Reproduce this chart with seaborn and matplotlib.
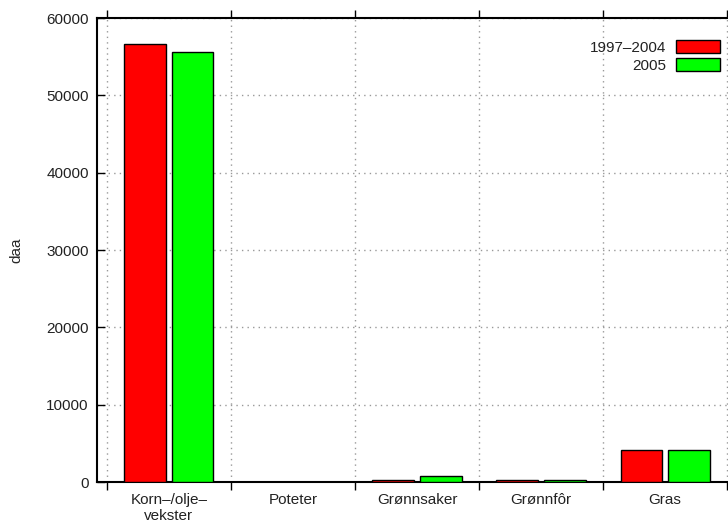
import matplotlib
matplotlib.use("Agg")
import matplotlib.pyplot as plt
import seaborn as sns
import pandas as pd
from matplotlib.patches import Patch

categories = ["Korn\u2013/olje\u2013\nvekster", "Poteter", "Grønnsaker", "Grønnfôr", "Gras"]
periods = ["1997\u20132004", "2005"]
values_9704 = [56700, 60, 250, 250, 4150]
values_2005 = [55600, 40, 800, 200, 4100]
colors = ["#ff0000", "#00ff00"]
yticks = [0, 10000, 20000, 30000, 40000, 50000, 60000]

df = pd.DataFrame({
    "kategori": categories * 2,
    "periode": [periods[0]] * len(categories) + [periods[1]] * len(categories),
    "daa": values_9704 + values_2005,
})

sns.set_style("white")
plt.rcParams["font.family"] = ["Liberation Sans", "DejaVu Sans"]
plt.rcParams["font.size"] = 11
plt.rcParams["text.color"] = "#222222"
plt.rcParams["xtick.color"] = "#222222"
plt.rcParams["ytick.color"] = "#222222"

fig = plt.figure(figsize=(7.28, 5.24), dpi=100)
ax = fig.add_axes([97 / 728, 42 / 524, 640 / 728, 464 / 524])

sns.barplot(data=df, x="kategori", y="daa", hue="periode", palette=colors,
            saturation=1, width=0.76, gap=0.11, edgecolor="black", linewidth=1.0,
            errorbar=None, legend=False, ax=ax, zorder=3)

ax.set_xlim(-0.58, 4.58)
ax.set_ylim(0, 60000)
ax.set_yticks(yticks)
ax.set_yticklabels([str(v) for v in yticks])

# category labels at bar-group centres, ticks/grid at group boundaries
ax.set_xticks(range(len(categories)))
ax.set_xticklabels(categories, linespacing=1.15)
ax.tick_params(axis="x", which="major", length=0, pad=8)
ax.set_xticks([i - 0.5 for i in range(len(categories) + 1)], minor=True)
ax.tick_params(axis="x", which="minor", direction="out", length=6, width=1,
               top=True, bottom=True, color="black")
ax.tick_params(axis="y", direction="in", length=6, width=1, left=True,
               color="black", pad=6)

ax.grid(False)
ax.grid(axis="x", which="minor", linestyle=(0, (1, 3)), color="#999999",
        linewidth=1.0, zorder=0)
ax.grid(axis="y", which="major", linestyle=(0, (1, 3)), color="#999999",
        linewidth=1.0, zorder=0)
ax.set_axisbelow(True)

for side in ["left", "bottom", "top", "right"]:
    ax.spines[side].set_visible(True)
    ax.spines[side].set_color("black")
    ax.spines[side].set_linewidth(1.5)

ax.set_xlabel("")
ax.set_ylabel("daa")
ax.yaxis.set_label_coords(-74 / 640, 0.5)

handles = [Patch(facecolor=c, edgecolor="black", linewidth=1.0) for c in colors]
ax.legend(handles, periods, loc="upper right", bbox_to_anchor=(623 / 640, 1 - 22 / 464),
          frameon=False, markerfirst=False, handlelength=2.9, handleheight=0.9,
          handletextpad=0.6, labelspacing=0.25, borderaxespad=0, borderpad=0)

fig.savefig("out.png", dpi=100)
